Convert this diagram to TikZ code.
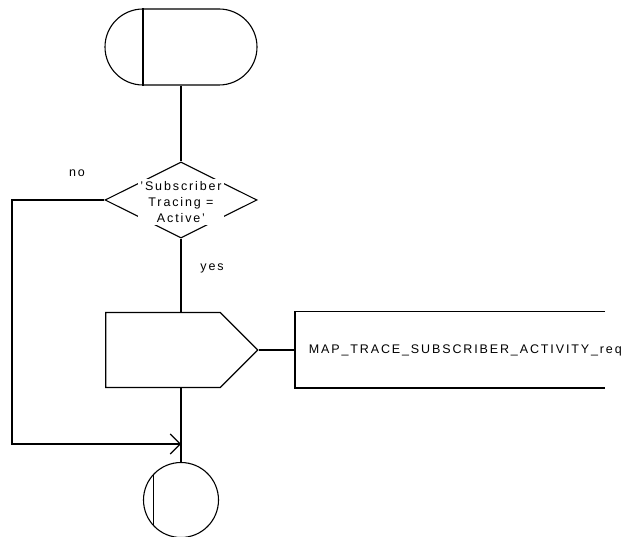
\documentclass[tikz,border=0pt]{standalone}
\usepackage{fontspec}
\setmainfont{Liberation Sans}[LetterSpace=15]
\usepackage{tikz}
\usetikzlibrary{shapes.geometric, shapes.misc, shapes.symbols, arrows.meta, positioning}

\begin{document}
\begin{tikzpicture}[
    x=1pt, y=-1pt,
    every node/.style={font=\fontsize{12.5}{16}\selectfont},
    line width=1.1pt,
    termblk/.style={draw, rounded rectangle, minimum width=152pt, minimum height=76pt, inner sep=0pt},
    decblk/.style={draw, diamond, minimum width=152pt, minimum height=76pt, inner sep=0pt},
    outblk/.style={draw, signal, signal to=east, signal from=nowhere, signal pointer angle=90,
                   minimum width=152pt, minimum height=75pt, inner sep=0pt},
    msgblk/.style={minimum width=309pt, minimum height=75pt, inner sep=0pt, anchor=west},
    stopblk/.style={draw, circle, minimum size=75pt, inner sep=0pt},
    line/.style={draw=black},
    arrow/.style={-{Straight Barb[length=10pt, width=20pt]}}
]
\useasboundingbox (0,0) rectangle (630,537);

% -------- Flow symbols, top to bottom --------
\node[termblk] (start)    at (181,47) {};
\node[decblk]  (decision) at (181,200) {};
\node[fill=white, inner sep=2pt, align=center] (dectext) at (181,202)
     {'Subscriber\\Tracing =\\Active'};
\node[outblk]  (send)     at (163,350) {};
\node[msgblk]  (msg)      at (295,350) {};
\node[anchor=west] (msgtext) at ([xshift=10pt]msg.west) {MAP\_TRACE\_SUBSCRIBER\_ACTIVITY\_req};
\node[stopblk] (stop)     at (181,500) {};

% -------- Inner bars --------
\draw ([xshift=-38pt]start.north) -- ([xshift=-38pt]start.south);
\draw (stop.136) -- (stop.224);
\draw (msg.north east) -- (msg.north west) -- (msg.south west) -- (msg.south east);

% -------- Branch labels --------
\node (nolbl)  at (77,173)  {no};
\node (yeslbl) at (212,268) {yes};

% -------- Sequential flow --------
\coordinate (noturn) at (12,444);
\coordinate (merge)  at (181,444);
\draw[line] (start.south) -- (decision.north);
\draw[line] (decision.south) -- (decision.south |- send.north);
\draw[line] (send.east) -- (msg.west);
\draw[line] (stop.north |- send.south) -- (stop.north);
\draw[line, arrow] (decision.west) -| (noturn) -- (merge);

\end{tikzpicture}
\end{document}
